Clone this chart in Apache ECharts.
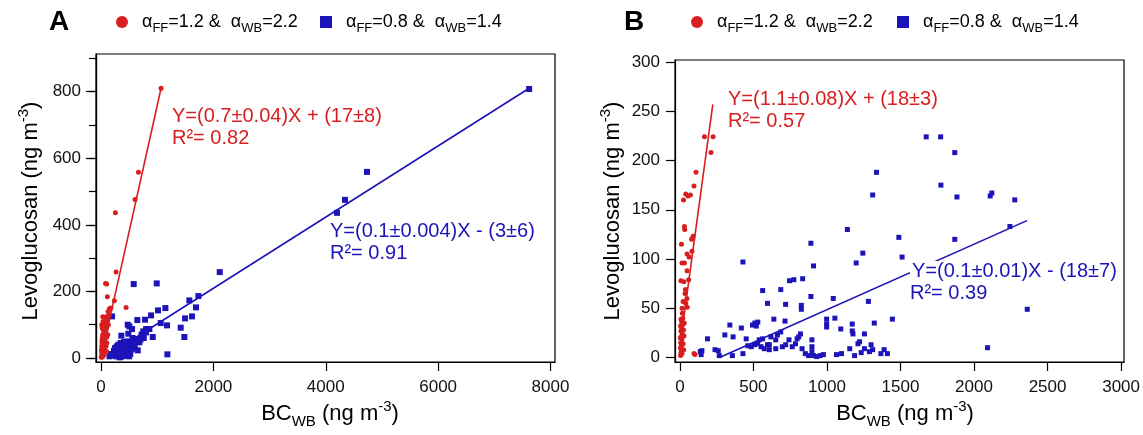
<!DOCTYPE html>
<html><head><meta charset="utf-8">
<script src="https://cdn.jsdelivr.net/npm/echarts@6/dist/echarts.min.js"></script>
<style>html,body{margin:0;padding:0;background:#fff}#c{width:1143px;height:435px}</style>
</head><body><div id="c"></div>
<script>
// ---------------- data ----------------
// Panel A: alpha_FF=1.2 & alpha_WB=2.2 (red circles)
const aRedPts = [
  [1068,810],[665,558],[605,476],[255,436],[267,258],[445,152],[237,172],[80,224],[100,222],
  [112,184],[150,148],[175,150],[125,140],
  [10,5],[15,12],[20,3],[25,20],[30,8],[35,28],[12,35],[18,45],[40,15],[45,40],[50,30],[55,55],
  [22,60],[28,70],[60,65],[65,48],[70,80],[38,85],[48,95],[75,100],[80,110],[30,124],[90,124],
  [118,124],[85,75],[95,88],[100,62],[105,95],[110,115],[14,18],[8,25],[16,52],[26,38],[33,50],
  [42,62],[52,78],[58,92],[62,105],[68,118],[72,60],[78,42],[88,35],[95,20],[102,45],[120,70],
  [130,100],[140,128],[20,90],[12,100],[35,110],[44,8],[56,14],[5,2],[25,4]
];
// Panel A: alpha_FF=0.8 & alpha_WB=1.4 (blue squares)
const aBluePts = [
  [7620,808],[4733,559],[4342,475],[4199,436],[2112,258],[581,222],[991,224],[196,125],
  [1571,173],[1732,186],[1690,152],[1619,125],[1495,119],[1418,91],[1483,63],[1180,11],
  [1145,150],[1014,143],[890,128],[783,115],[646,114],[1062,105],[1174,98],[475,100],[504,95],
  [801,87],[860,87],[801,77],[920,63],[486,73],[552,87],[361,67],[653,23],[528,25],[682,47],
  [630,57],[220,8],[250,15],[270,5],[290,20],[300,10],[320,28],[340,12],[360,4],[380,22],
  [400,35],[420,15],[440,8],[460,30],[480,18],[500,40],[520,12],[540,32],[560,45],[580,28],
  [600,38],[250,30],[310,40],[350,45],[390,6],[430,25],[470,50],[230,22],[280,35],[410,48],
  [700,55],[720,70],[750,80],[760,60],[600,55],[560,60],[540,45],[460,10],[500,5],[330,2],
  [380,14],[150,5],[180,12]
];
// Panel B: red
const bRedPts = [
  [167,224],[226,224],[212,208],[110,188],[96,174],[25,160],[40,166],[56,164],[72,165],[31,133],
  [33,130],[80,120],[90,123],[11,115],[82,108],[49,105],[63,102],[15,96],[31,96],[49,88],[7,78],
  [27,77],[60,79],[38,69],[35,65],[48,60],[22,57],[40,55],[50,51],[15,50],
  [5,2],[8,5],[10,8],[12,12],[6,15],[14,18],[9,21],[16,24],[7,27],[11,30],[18,33],[13,36],[8,39],
  [20,40],[4,10],[15,4],[22,14],[25,28],[28,22],[30,35],[5,32],[17,45],[26,8],[3,20],[96,4],[103,3]
];
// Panel B: blue
const bBluePts = [
  [1675,224],[1773,224],[1869,208],[1775,175],[1884,163],[2110,164],[2121,167],[2277,160],
  [2244,133],[1869,120],[1489,122],[1511,102],[2362,49],[2092,10],[1337,188],[1311,165],
  [1139,130],[1199,96],[1244,106],[891,116],[909,93],[429,97],[746,78],[775,79],[835,80],
  [563,68],[686,69],[891,62],[1043,60],[1282,57],[596,55],[719,54],[826,53],[826,49],[998,39],
  [998,34],[998,31],[1054,40],[1094,29],[1172,34],[1172,27],[1322,35],[1445,39],[639,39],
  [715,37],[494,33],[510,35],[520,32],[530,36],[418,30],[340,33],[306,23],[362,21],[188,19],
  [150,7],[239,8],[261,7],[268,2],[357,2],[429,4],[451,19],[145,3],[139,6],
  [462,12],[485,11],[507,13],[529,14],[552,11],[574,9],[540,18],[563,19],[596,13],[608,8],
  [652,18],[663,23],[686,26],[619,21],[697,11],[719,13],[742,18],[764,11],[786,14],[797,19],
  [808,21],[820,24],[831,9],[853,4],[875,2],[898,6],[909,2],[931,1],[954,2],[976,3],[898,18],
  [898,11],[1065,3],[1099,4],[1155,9],[1188,2],[1233,5],[1255,9],[1300,13],[1311,8],[1389,8],
  [1411,4],[1222,16],[1255,24],[1177,24],[652,9],[608,13],[1367,4],[1211,14],[1289,6]
];
// fitted lines (end points)
const aRedFit = [[25,20],[1068,810]];
const aBlueFit = [[350,33],[7620,810]];
const bRedFit = [[0,11],[224,257]];
const bBlueFit = [[270,0],[2360,139]];
// tick values
const aXTicks = [0,2000,4000,6000,8000];
const aYTicks = [0,200,400,600,800];
const aYMinorTicks = [0,100,200,300,400,500,600,700,800,900];
const bXTicks = [0,500,1000,1500,2000,2500,3000];
const bYTicks = [0,50,100,150,200,250,300];
// texts
const panelNames = ['A','B'];
const legendRed = '{n|α}{s|FF}{n|=1.2 &  α}{s|WB}{n|=2.2}';
const legendBlue = '{n|α}{s|FF}{n|=0.8 &  α}{s|WB}{n|=1.4}';
const aRedEq = ['Y=(0.7±0.04)X + (17±8)','R²= 0.82'];
const aBlueEq = ['Y=(0.1±0.004)X - (3±6)','R²= 0.91'];
const bRedEq = ['Y=(1.1±0.08)X + (18±3)','R²= 0.57'];
const bBlueEq = ['Y=(0.1±0.01)X - (18±7)','R²= 0.39'];
const yTitle = '{n|Levoglucosan (ng m}{p|-3}{n|)}';
const xTitle = '{n|BC}{s|WB}{n| (ng m}{p|-3}{n|)}';

// ---------------- chart ----------------
const RED = '#d81e1e', BLUE = '#1c14b8';
const FONT = 'Liberation Sans, Arial, sans-serif';
const chart = echarts.init(document.getElementById('c'), null, {renderer:'canvas'});

const richBase = (fs) => ({
  n:{fontSize:fs, fontFamily:FONT, color:'#111', lineHeight:fs+8, verticalAlign:'middle'},
  s:{fontSize:Math.round(fs*0.7), fontFamily:FONT, color:'#111', lineHeight:Math.round(fs*0.55), verticalAlign:'bottom'},
  p:{fontSize:Math.round(fs*0.7), fontFamily:FONT, color:'#111', lineHeight:Math.round(fs*0.55), verticalAlign:'top'}
});
const plain = (v) => String(v);

function xAx(gi, min, max, ticks){
  return {type:'value', gridIndex:gi, min, max, position:'bottom',
    axisLine:{show:true, onZero:false, lineStyle:{color:'#000', width:1.2}},
    axisTick:{show:true, inside:false, length:9, customValues:ticks, lineStyle:{color:'#000', width:1.2}},
    axisLabel:{show:true, customValues:ticks, formatter:plain, margin:17, fontSize:17, fontFamily:FONT, color:'#111'},
    splitLine:{show:false}};
}
function yAx(gi, min, max, ticks, labels, len){
  return {type:'value', gridIndex:gi, min, max, position:'left',
    axisLine:{show:true, onZero:false, lineStyle:{color:'#000', width:1.2}},
    axisTick:{show:true, inside:false, length:len, customValues:ticks, lineStyle:{color:'#000', width:1.2}},
    axisLabel:{show:labels, customValues:ticks, formatter:plain, margin:15, fontSize:17, fontFamily:FONT, color:'#111'},
    splitLine:{show:false}};
}
function scat(xi, yi, data, color, sym, size, z){
  return {type:'scatter', xAxisIndex:xi, yAxisIndex:yi, data, symbol:sym, symbolSize:size,
    itemStyle:{color, opacity:1}, z, silent:true, animation:false};
}
function fit(xi, yi, data, color){
  return {type:'line', xAxisIndex:xi, yAxisIndex:yi, data, showSymbol:false, symbol:'none',
    lineStyle:{color, width:1.6}, z:4, silent:true, animation:false};
}
function eq(x, y, lines, color, bg){
  return [
    {type:'text', left:x, top:y, z:10, style:{text:lines[0], fill:color, font:'20px '+FONT,
      backgroundColor: bg ? '#fff' : null, padding: bg ? [0,2,0,2] : 0}},
    {type:'text', left:x, top:y+22, z:10, style:{text:lines[1], fill:color, font:'20px '+FONT}}
  ];
}
function legend(cx, color, shape, text){
  const els = [];
  if (shape === 'circle') els.push({type:'circle', shape:{cx:cx, cy:22, r:6}, style:{fill:color}});
  else els.push({type:'rect', shape:{x:cx-6, y:16, width:12, height:12}, style:{fill:color}});
  els.push({type:'text', x:cx+20, y:22, style:{text:text, rich:richBase(18), verticalAlign:'middle', align:'left'}});
  return els;
}

const option = {
  backgroundColor:'#fff',
  animation:false,
  grid:[
    {left:96, top:54, width:459, height:308, show:true, borderColor:'#000', borderWidth:1.2, containLabel:false},
    {left:675, top:60, width:455, height:302, show:true, borderColor:'#000', borderWidth:1.2, containLabel:false}
  ],
  xAxis:[ xAx(0, -90, 8080, aXTicks), xAx(1, -33, 3020, bXTicks) ],
  yAxis:[ yAx(0, -12, 913, aYTicks, true, 10), yAx(0, -12, 913, aYMinorTicks, false, 7),
          yAx(1, -4.5, 302, bYTicks, true, 9) ],
  series:[
    scat(0, 0, aBluePts, BLUE, 'rect', 6, 2),
    scat(0, 0, aRedPts, RED, 'circle', 5, 3),
    fit(0, 0, aRedFit, RED), fit(0, 0, aBlueFit, BLUE),
    scat(1, 2, bBluePts, BLUE, 'rect', 5, 2),
    scat(1, 2, bRedPts, RED, 'circle', 5, 3),
    fit(1, 2, bRedFit, RED), fit(1, 2, bBlueFit, BLUE)
  ],
  graphic:[
    {type:'text', x:59, y:22, style:{text:panelNames[0], font:'bold 28px '+FONT, fill:'#000', align:'center', verticalAlign:'middle'}},
    {type:'text', x:634, y:22, style:{text:panelNames[1], font:'bold 28px '+FONT, fill:'#000', align:'center', verticalAlign:'middle'}},
    ...legend(122, RED, 'circle', legendRed),
    ...legend(326, BLUE, 'rect', legendBlue),
    ...legend(697, RED, 'circle', legendRed),
    ...legend(903, BLUE, 'rect', legendBlue),
    ...eq(172, 106, aRedEq, RED, false),
    ...eq(330, 221, aBlueEq, BLUE, false),
    ...eq(728, 89, bRedEq, RED, false),
    ...eq(910, 261, bBlueEq, BLUE, true),
    {type:'text', x:31, y:211, rotation:Math.PI/2, style:{text:yTitle, rich:richBase(22), align:'center', verticalAlign:'middle'}},
    {type:'text', x:613, y:211, rotation:Math.PI/2, style:{text:yTitle, rich:richBase(22), align:'center', verticalAlign:'middle'}},
    {type:'text', x:330, y:414, style:{text:xTitle, rich:richBase(22), align:'center', verticalAlign:'middle'}},
    {type:'text', x:905, y:414, style:{text:xTitle, rich:richBase(22), align:'center', verticalAlign:'middle'}}
  ]
};
chart.setOption(option);
</script>
</body></html>
